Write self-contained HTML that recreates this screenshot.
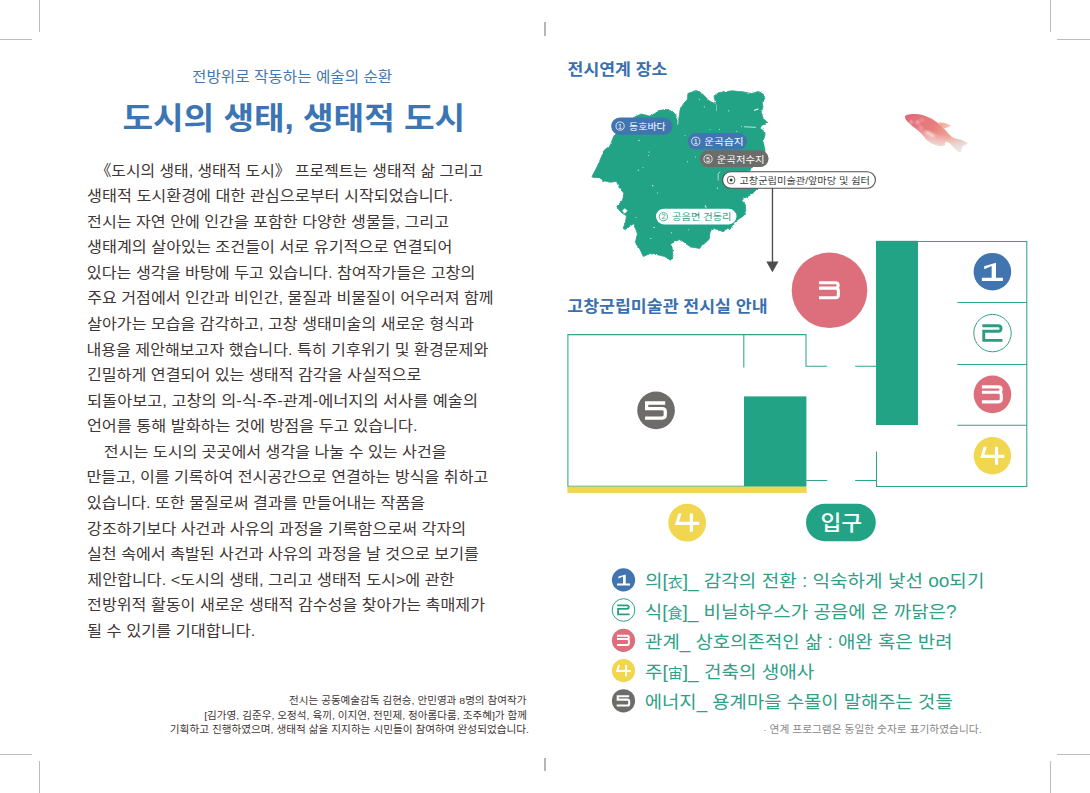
<!DOCTYPE html>
<html lang="ko"><head><meta charset="utf-8"><title>도시의 생태, 생태적 도시</title>
<style>
html,body{margin:0;padding:0;background:#fff}
body{width:1090px;height:793px;position:relative;overflow:hidden;font-family:"Liberation Sans",sans-serif}
svg{position:absolute;left:0;top:0;display:block}
svg text{font-family:"Liberation Sans","Noto Sans CJK KR","NanumGothic",sans-serif}
#t *{position:absolute;margin:0;padding:0;white-space:nowrap;line-height:1.16;color:transparent;overflow:hidden}
</style></head><body>
<svg width="1090" height="793" viewBox="0 0 1090 793">
<rect x="39" y="0" width="1" height="32" fill="#bcbcbc"/>
<rect x="39" y="761" width="1" height="32" fill="#bcbcbc"/>
<rect x="1050" y="0" width="1" height="32" fill="#bcbcbc"/>
<rect x="1050" y="761" width="1" height="32" fill="#bcbcbc"/>
<rect x="0" y="39" width="32" height="1" fill="#bcbcbc"/>
<rect x="1057" y="39" width="33" height="1" fill="#bcbcbc"/>
<rect x="0" y="754" width="32" height="1" fill="#bcbcbc"/>
<rect x="1057" y="754" width="33" height="1" fill="#bcbcbc"/>
<rect x="544" y="22" width="2" height="14" fill="#b9b3b3"/>
<rect x="544" y="758" width="2" height="13" fill="#b9b3b3"/>
<defs><filter id="rough" x="-5%" y="-5%" width="110%" height="110%"><feTurbulence type="fractalNoise" baseFrequency="0.3" numOctaves="2" seed="4" result="n"/><feDisplacementMap in="SourceGraphic" in2="n" scale="2.4" xChannelSelector="R" yChannelSelector="G"/></filter></defs>
<path filter="url(#rough)" fill="#23a386" stroke="#23a386" stroke-width="0.8" stroke-linejoin="round" d="M614,135.6 634.5,116.9 641.3,114 650.4,116.3 659.5,110.6 666.3,109.3 673,111.8 676.5,116.3 678.2,121.5 679.3,116 680,110.1 683.4,103.8 687.4,99.3 687.9,93.6 695.9,90.4 701.6,93.1 705.5,97 709.5,101 716.3,104.4 714.6,99.3 714,95.9 718.6,92.7 732.2,90.8 743.6,91.9 751.5,93.6 758.3,91.4 763.4,94.2 764.9,98.2 762.3,102.7 762.9,107.2 761.2,112.9 763.4,118.6 767.2,122.2 761.7,125.4 760,128.2 764.6,131.6 765.1,134.5 762.9,141.3 764.6,148.1 765.1,150.9 762,160 752.6,167 749.2,171.6 752,180 757.2,188.5 752.6,193.7 743.6,198.8 741.9,200.5 745.3,204.5 745.8,210.2 743.6,215.8 736.8,220.4 733.4,223.8 729.9,229.5 727.7,228.3 723.1,231.7 717.5,229.5 713.8,228.6 710.1,233 709.4,238.9 704.2,244 702,244.8 699.8,248.4 691,247 685.1,243.3 679.3,239.6 670.5,244 672.7,249.9 672.7,258 670.5,260.2 664.6,256.5 658.7,255 649.9,253.6 643.3,256.5 639.6,248.4 635.2,243.3 637.4,233.8 633.8,223.5 625.4,229.5 623.1,228.3 625.4,222.6 626.5,215.8 622.6,213.6 619.2,210.2 616.9,206.2 619.7,203.3 622.6,199.9 623.7,193.1 619.2,187.5 616.3,181.2 610.6,182.3 602.7,180.6 600.4,177.2 594.2,177.8 591.9,176.7 597,167 604.4,150 610,145.8Z"/>
<path fill="#fff" d="M624.8,208.2 627.6,210.7 624.8,213.4 622,210.7Z"/>
<circle cx="639" cy="140.5" r="0.7" fill="#fff" opacity=".85"/>
<circle cx="649" cy="152" r="0.6" fill="#fff" opacity=".85"/>
<circle cx="648.5" cy="155.5" r="0.5" fill="#fff" opacity=".85"/>
<circle cx="643" cy="167.5" r="0.5" fill="#fff" opacity=".85"/>
<circle cx="638.3" cy="170.2" r="0.6" fill="#fff" opacity=".85"/>
<circle cx="652.7" cy="185.8" r="0.7" fill="#fff" opacity=".85"/>
<circle cx="657.5" cy="193" r="0.5" fill="#fff" opacity=".85"/>
<circle cx="636" cy="217.5" r="0.5" fill="#fff" opacity=".85"/>
<circle cx="653.8" cy="227.6" r="0.5" fill="#fff" opacity=".85"/>
<circle cx="671.5" cy="232.8" r="0.6" fill="#fff" opacity=".85"/>
<circle cx="650.8" cy="238.5" r="0.6" fill="#fff" opacity=".85"/>
<circle cx="654.3" cy="227.3" r="0.5" fill="#fff" opacity=".85"/>
<circle cx="685" cy="135.5" r="0.5" fill="#fff" opacity=".85"/>
<circle cx="699.3" cy="99.3" r="0.6" fill="#fff" opacity=".85"/>
<circle cx="704.3" cy="106.8" r="0.6" fill="#fff" opacity=".85"/>
<circle cx="728.8" cy="110.8" r="0.6" fill="#fff" opacity=".85"/>
<circle cx="741.5" cy="126.3" r="0.5" fill="#fff" opacity=".85"/>
<circle cx="710" cy="129.5" r="0.5" fill="#fff" opacity=".85"/>
<circle cx="719.5" cy="129.5" r="0.5" fill="#fff" opacity=".85"/>
<circle cx="736.6" cy="131.3" r="0.5" fill="#fff" opacity=".85"/>
<circle cx="695.5" cy="157" r="0.5" fill="#fff" opacity=".85"/>
<circle cx="687.5" cy="161.8" r="0.5" fill="#fff" opacity=".85"/>
<circle cx="717.5" cy="188.2" r="0.6" fill="#fff" opacity=".85"/>
<circle cx="688.3" cy="229.7" r="0.5" fill="#fff" opacity=".85"/>
<path d="M754.5,110.3l3.6,-1.2" stroke="#fff" stroke-width="1.1" stroke-linecap="round"/>
<path d="M744.5,126.8l11,.5" stroke="#fff" stroke-width=".8" stroke-linecap="round" opacity=".9"/>
<path d="M716.4,104.5v6.5" stroke="#fff" stroke-width=".6" opacity=".7"/>
<path d="M676.3,116.5q2.6,3.5 1.4,8" stroke="#fff" stroke-width=".9" fill="none" opacity=".9"/>
<path d="M718.2,180.5v-7l2,-1.6" stroke="#fff" stroke-width=".7" fill="none" opacity=".9"/>
<path d="M705.2,205.2l.9,2.6" stroke="#fff" stroke-width="1" opacity=".9"/>
<defs><linearGradient id="fg" gradientUnits="userSpaceOnUse" x1="905" y1="116" x2="962" y2="150"><stop offset="0" stop-color="#de6877"/><stop offset=".45" stop-color="#e77f7d"/><stop offset=".72" stop-color="#efa596"/><stop offset="1" stop-color="#dedad9"/></linearGradient>
<linearGradient id="fb" gradientUnits="userSpaceOnUse" x1="930" y1="120" x2="922" y2="146"><stop offset=".38" stop-color="#fff" stop-opacity="0"/><stop offset=".95" stop-color="#e9e5e4" stop-opacity="1"/></linearGradient>
<linearGradient id="ff" gradientUnits="userSpaceOnUse" x1="939" y1="125" x2="951" y2="126"><stop offset="0" stop-color="#eea290"/><stop offset="1" stop-color="#f5cdbf"/></linearGradient>
<filter id="bl" x="-10%" y="-10%" width="120%" height="120%"><feGaussianBlur stdDeviation=".7"/></filter><filter id="bl2" x="-50%" y="-50%" width="200%" height="200%"><feGaussianBlur stdDeviation=".9"/></filter></defs>
<g filter="url(#bl)"><path d="M904.9,117 C905,114.6 909,113.8 914.8,113.9 C920,114 925,115.3 929.6,117.8 C933.5,119.8 937.5,122.3 941.2,125.6 C944,128.2 948,133.5 951.1,136.3 C953.5,138.3 957,139.3 961,139.8 L968,143 L962.7,146.2 L960.2,152.4 C957.8,151 955.8,149.4 954.4,147.9 L949.5,143 L945.6,141.5 L944.5,145.2 C941.5,145.9 939,145.8 936.2,145 C934,144.3 931.8,143.5 929.6,142.1 C927,140.5 925,138 923,135.5 C920.5,132.5 917.6,130.3 914.8,128.1 C912,126 910,124 908.2,122.3 C906.5,120.6 905.2,119 904.9,117Z" fill="url(#fg)"/><path d="M904.9,117 C905,114.6 909,113.8 914.8,113.9 C920,114 925,115.3 929.6,117.8 C933.5,119.8 937.5,122.3 941.2,125.6 C944,128.2 948,133.5 951.1,136.3 C953.5,138.3 957,139.3 961,139.8 L968,143 L962.7,146.2 L960.2,152.4 C957.8,151 955.8,149.4 954.4,147.9 L949.5,143 L945.6,141.5 L944.5,145.2 C941.5,145.9 939,145.8 936.2,145 C934,144.3 931.8,143.5 929.6,142.1 C927,140.5 925,138 923,135.5 C920.5,132.5 917.6,130.3 914.8,128.1 C912,126 910,124 908.2,122.3 C906.5,120.6 905.2,119 904.9,117Z" fill="url(#fb)"/><path d="M938.5,122.6 C941.5,122.4 944.5,122.8 947,123.7 L951.3,125.7 L947.6,127.4 L943.4,128.7Z" fill="url(#ff)"/></g><g filter="url(#bl2)" fill="#fff"><ellipse cx="911.3" cy="121.9" rx=".9" ry="1.8" transform="rotate(-20 911.3 121.9)" opacity=".8"/><ellipse cx="917.6" cy="122.2" rx="1.8" ry="1.5" opacity=".6"/><ellipse cx="922" cy="119.8" rx="2.6" ry="1.2" transform="rotate(15 922 119.8)" opacity=".3"/><ellipse cx="930" cy="134" rx="6" ry="2" transform="rotate(28 930 134)" opacity=".55"/><ellipse cx="921" cy="127.5" rx="3" ry="1.5" transform="rotate(35 921 127.5)" opacity=".3"/></g>
<rect x="611.2" y="117.6" width="61.3" height="17.2" rx="8.60" fill="#4075b0"/>
<rect x="687.6" y="133" width="59.4" height="16.6" rx="8.30" fill="#4075b0"/>
<rect x="699.8" y="150.2" width="68.8" height="16.8" rx="8.40" fill="#6d6c6b"/>
<rect x="656" y="208.8" width="80.5" height="15.6" rx="7.80" fill="#fff"/>
<rect x="722.6" y="171.8" width="152.8" height="16.4" rx="8.20" fill="#fff" stroke="#4f4f4f" stroke-width="1.1"/>
<rect x="771.8" y="188" width="1.35" height="75" fill="#4e4c4c"/>
<path d="M766.3,261.6h12.2l-6.1,10.6z" fill="#4e4c4c"/>
<rect x="876" y="240.8" width="42" height="184.2" fill="#23a386"/>
<path d="M918,241.4H1026.8V486.5H876.5V451.5" stroke="#2fa58a" stroke-width="1.05" fill="none"/>
<path d="M957.3,302.5L1026.8,302.5" stroke="#2fa58a" stroke-width="1.05" fill="none"/>
<path d="M957.3,364.4L1026.8,364.4" stroke="#2fa58a" stroke-width="1.05" fill="none"/>
<path d="M957.3,425.3L1026.8,425.3" stroke="#2fa58a" stroke-width="1.05" fill="none"/>
<path d="M806.3,480.4H827.2M855.2,480.4H876.5M876,366.2H855.2M827.2,366.2H806V334.6H567.9V486.2H806" stroke="#2fa58a" stroke-width="1.05" fill="none"/>
<path d="M743.8,334.6L743.8,367.5" stroke="#2fa58a" stroke-width="1.05" fill="none"/>
<rect x="744" y="396.4" width="62.4" height="90" fill="#23a386"/>
<rect x="567.4" y="486.6" width="239.3" height="6.3" fill="#f1d650"/>
<rect x="806" y="503.8" width="69.8" height="37.4" rx="18.70" fill="#23a386"/>
<circle cx="829.5" cy="290.3" r="37.8" fill="#dc6f7b"/>
<path transform="translate(829.5 290.3) scale(18.8)" fill="none" stroke="#fff" stroke-width=".165" d="M-.56,-.40H.31Q.46,-.40 .46,-.26Q.46,-.115 .31,-.115H-.56M.31,-.115Q.47,-.115 .47,.03V.25Q.47,.40 .31,.40H-.56"/>
<circle cx="992.4" cy="271.7" r="18.8" fill="#4075b0"/>
<path transform="translate(992.4 271.7) scale(18.8)" fill="#fff" d="M-.56,.32H.56V.49H-.56ZM-.04,-.30L-.43,-.13L-.44,-.29L.19,-.475V.40H-.04Z"/>
<circle cx="992.5" cy="333.1" r="18.7" fill="#fff" stroke="#2fa58a" stroke-width="1"/>
<path transform="translate(992.5 333.1) scale(18.8)" fill="none" stroke="#2a9e82" stroke-width=".155" d="M-.54,-.395H.30Q.455,-.395 .455,-.25Q.455,-.10 .30,-.10H-.465V.385H.53"/>
<circle cx="992.45" cy="394.4" r="18.8" fill="#dc6f7b"/>
<path transform="translate(992.45 394.4) scale(18.8)" fill="none" stroke="#fff" stroke-width=".165" d="M-.56,-.40H.31Q.46,-.40 .46,-.26Q.46,-.115 .31,-.115H-.56M.31,-.115Q.47,-.115 .47,.03V.25Q.47,.40 .31,.40H-.56"/>
<circle cx="992.4" cy="455.7" r="18.7" fill="#f1d650"/>
<path transform="translate(992.4 455.7) scale(18.7)" fill="#fff" d="M.136,-.485H.303V.485H.136ZM-.65,.12L-.47,-.485H-.30L-.43,-.045H.636V.12Z"/>
<circle cx="656.05" cy="410.4" r="18.8" fill="#6d6c6b"/>
<path transform="translate(656.05 410.4) scale(18.8)" fill="none" stroke="#fff" stroke-width=".175" d="M.486,-.393H-.50V-.10H.32Q.49,-.10 .49,.06V.25Q.49,.408 .32,.408H-.586"/>
<circle cx="687.2" cy="522.7" r="18.9" fill="#f1d650"/>
<path transform="translate(687.2 522.7) scale(18.9)" fill="#fff" d="M.136,-.485H.303V.485H.136ZM-.65,.12L-.47,-.485H-.30L-.43,-.045H.636V.12Z"/>
<circle cx="623.5" cy="579.9" r="11.6" fill="#4075b0"/>
<path transform="translate(623.5 579.9) scale(11.6)" fill="#fff" d="M-.56,.32H.56V.49H-.56ZM-.04,-.30L-.43,-.13L-.44,-.29L.19,-.475V.40H-.04Z"/>
<circle cx="623.5" cy="610" r="11.3" fill="#fff" stroke="#2fa58a" stroke-width="1"/>
<path transform="translate(623.5 610) scale(11.6)" fill="none" stroke="#2a9e82" stroke-width=".155" d="M-.54,-.395H.30Q.455,-.395 .455,-.25Q.455,-.10 .30,-.10H-.465V.385H.53"/>
<circle cx="623.5" cy="640.4" r="11.6" fill="#dc6f7b"/>
<path transform="translate(623.5 640.4) scale(11.6)" fill="none" stroke="#fff" stroke-width=".165" d="M-.56,-.40H.31Q.46,-.40 .46,-.26Q.46,-.115 .31,-.115H-.56M.31,-.115Q.47,-.115 .47,.03V.25Q.47,.40 .31,.40H-.56"/>
<circle cx="623.5" cy="670.6" r="11.6" fill="#f1d650"/>
<path transform="translate(623.5 670.6) scale(11.6)" fill="#fff" d="M.136,-.485H.303V.485H.136ZM-.65,.12L-.47,-.485H-.30L-.43,-.045H.636V.12Z"/>
<circle cx="623.5" cy="700.8" r="11.6" fill="#6d6c6b"/>
<path transform="translate(623.5 700.8) scale(11.6)" fill="none" stroke="#fff" stroke-width=".175" d="M.486,-.393H-.50V-.10H.32Q.49,-.10 .49,.06V.25Q.49,.408 .32,.408H-.586"/>
<text x="192.06" y="82.24" font-size="14.6" fill="#4478b4" textLength="200.2" lengthAdjust="spacingAndGlyphs">전방위로 작동하는 예술의 순환</text>
<text x="122.42" y="129.06" font-size="31" font-weight="700" fill="#3c75b3" textLength="342.8" lengthAdjust="spacingAndGlyphs">도시의 생태, 생태적 도시</text>
<g font-size="15.1" fill="#3f3636">
<text x="95.50" y="175.52" textLength="387.7" lengthAdjust="spacingAndGlyphs">《도시의 생태, 생태적 도시》 프로젝트는 생태적 삶 그리고</text>
<text x="87.12" y="201.09" textLength="365.9" lengthAdjust="spacingAndGlyphs">생태적 도시환경에 대한 관심으로부터 시작되었습니다.</text>
<text x="87.08" y="226.66" textLength="361.9" lengthAdjust="spacingAndGlyphs">전시는 자연 안에 인간을 포함한 다양한 생물들, 그리고</text>
<text x="87.11" y="252.23" textLength="365.3" lengthAdjust="spacingAndGlyphs">생태계의 살아있는 조건들이 서로 유기적으로 연결되어</text>
<text x="86.80" y="277.80" textLength="388.5" lengthAdjust="spacingAndGlyphs">있다는 생각을 바탕에 두고 있습니다. 참여작가들은 고창의</text>
<text x="87.15" y="303.37" textLength="406.5" lengthAdjust="spacingAndGlyphs">주요 거점에서 인간과 비인간, 물질과 비물질이 어우러져 함께</text>
<text x="87.22" y="328.94" textLength="386.8" lengthAdjust="spacingAndGlyphs">살아가는 모습을 감각하고, 고창 생태미술의 새로운 형식과</text>
<text x="86.42" y="354.51" textLength="401.8" lengthAdjust="spacingAndGlyphs">내용을 제안해보고자 했습니다. 특히 기후위기 및 환경문제와</text>
<text x="86.90" y="380.08" textLength="334.5" lengthAdjust="spacingAndGlyphs">긴밀하게 연결되어 있는 생태적 감각을 사실적으로</text>
<text x="87.06" y="405.65" textLength="390.9" lengthAdjust="spacingAndGlyphs">되돌아보고, 고창의 의-식-주-관계-에너지의 서사를 예술의</text>
<text x="86.92" y="431.22" textLength="330.6" lengthAdjust="spacingAndGlyphs">언어를 통해 발화하는 것에 방점을 두고 있습니다.</text>
<text x="103.88" y="456.79" textLength="342.7" lengthAdjust="spacingAndGlyphs">전시는 도시의 곳곳에서 생각을 나눌 수 있는 사건을</text>
<text x="86.51" y="482.36" textLength="401.8" lengthAdjust="spacingAndGlyphs">만들고, 이를 기록하여 전시공간으로 연결하는 방식을 취하고</text>
<text x="86.81" y="507.93" textLength="338.3" lengthAdjust="spacingAndGlyphs">있습니다. 또한 물질로써 결과를 만들어내는 작품을</text>
<text x="87.12" y="533.50" textLength="379.0" lengthAdjust="spacingAndGlyphs">강조하기보다 사건과 사유의 과정을 기록함으로써 각자의</text>
<text x="87.02" y="559.07" textLength="391.8" lengthAdjust="spacingAndGlyphs">실천 속에서 촉발된 사건과 사유의 과정을 날 것으로 보기를</text>
<text x="87.31" y="584.64" textLength="367.2" lengthAdjust="spacingAndGlyphs">제안합니다. &lt;도시의 생태, 그리고 생태적 도시&gt;에 관한</text>
<text x="87.08" y="610.21" textLength="397.9" lengthAdjust="spacingAndGlyphs">전방위적 활동이 새로운 생태적 감수성을 찾아가는 촉매제가</text>
<text x="87.08" y="635.78" textLength="168.2" lengthAdjust="spacingAndGlyphs">될 수 있기를 기대합니다.</text>
</g>
<g font-size="9.9" fill="#3f3636">
<text x="289.10" y="704.36" textLength="237.3" lengthAdjust="spacingAndGlyphs">전시는 공동예술감독 김현승, 안민영과 8명의 참여작가</text>
<text x="204.16" y="718.86" textLength="322.9" lengthAdjust="spacingAndGlyphs">[김가영, 김준우, 오정석, 육끼, 이지연, 전민제, 정아롬다룸, 조주혜]가 함께</text>
<text x="169.82" y="733.26" textLength="359.2" lengthAdjust="spacingAndGlyphs">기획하고 진행하였으며, 생태적 삶을 지지하는 시민들이 참여하여 완성되었습니다.</text>
</g>
<text x="567.59" y="75.28" font-size="16" font-weight="700" fill="#3a70ad" textLength="99.8" lengthAdjust="spacingAndGlyphs">전시연계 장소</text>
<text x="567.33" y="312.19" font-size="16" font-weight="700" fill="#3a70ad" textLength="200.2" lengthAdjust="spacingAndGlyphs">고창군립미술관 전시실 안내</text>
<text x="629.10" y="129.72" font-size="9.2" fill="#fff" textLength="36.7" lengthAdjust="spacingAndGlyphs">동호바다</text>
<circle cx="620.1" cy="126.1" r="4.1" fill="none" stroke="#fff" stroke-width="0.8"/>
<text x="620.1" y="128.72" font-size="7.2" fill="#fff" text-anchor="middle">1</text>
<text x="704.28" y="144.92" font-size="9.2" fill="#fff" textLength="39.4" lengthAdjust="spacingAndGlyphs">운곡습지</text>
<circle cx="695.8" cy="141.3" r="4.1" fill="none" stroke="#fff" stroke-width="0.8"/>
<text x="695.8" y="143.92" font-size="7.2" fill="#fff" text-anchor="middle">1</text>
<text x="716.79" y="162.52" font-size="9.2" fill="#fff" textLength="47.8" lengthAdjust="spacingAndGlyphs">운곡저수지</text>
<circle cx="708" cy="159" r="4.1" fill="none" stroke="#fff" stroke-width="0.8"/>
<text x="708" y="161.62" font-size="7.2" fill="#fff" text-anchor="middle">5</text>
<text x="672.07" y="220.32" font-size="9.2" fill="#2a9e82" textLength="59.5" lengthAdjust="spacingAndGlyphs">공음면 건동리</text>
<circle cx="663.4" cy="216.7" r="4.1" fill="none" stroke="#2a9e82" stroke-width="0.8"/>
<text x="663.4" y="219.32" font-size="7.2" fill="#2a9e82" text-anchor="middle">2</text>
<text x="739.47" y="183.77" font-size="9.4" fill="#3b3b3b" textLength="130.5" lengthAdjust="spacingAndGlyphs">고창군립미술관/앞마당 및 쉼터</text>
<circle cx="731.1" cy="180" r="3.9" fill="none" stroke="#3b3b3b" stroke-width=".8"/><circle cx="731.1" cy="180" r="1.5" fill="#3b3b3b"/>
<text x="820.47" y="530.37" font-size="21" font-weight="500" fill="#fff" textLength="41.8" lengthAdjust="spacingAndGlyphs">입구</text>
<g font-size="17.6" fill="#2fa086">
<text x="644.91" y="587.41" textLength="339.5" lengthAdjust="spacingAndGlyphs">의[<tspan font-size="13.8">衣</tspan>]_ 감각의 전환 : 익숙하게 낯선 oo되기</text>
<text x="644.82" y="617.51" textLength="311.8" lengthAdjust="spacingAndGlyphs">식[<tspan font-size="13.8">食</tspan>]_ 비닐하우스가 공음에 온 까닭은?</text>
<text x="645.09" y="647.91" textLength="307.5" lengthAdjust="spacingAndGlyphs">관계_ 상호의존적인 삶 : 애완 혹은 반려</text>
<text x="645.01" y="678.11" textLength="169.3" lengthAdjust="spacingAndGlyphs">주[<tspan font-size="13.8">宙</tspan>]_ 건축의 생애사</text>
<text x="644.80" y="708.31" textLength="307.9" lengthAdjust="spacingAndGlyphs">에너지_ 용계마을 수몰이 말해주는 것들</text>
</g>
<text x="763.05" y="732.61" font-size="9.8" fill="#8a8888" textLength="218.6" lengthAdjust="spacingAndGlyphs">· 연계 프로그램은 동일한 숫자로 표기하였습니다.</text>
</svg>
<div id="t">
<p style="left:192.9px;top:67.3px;width:198.8px;font-size:15.6px;font-weight:400">전방위로 작동하는 예술의 순환</p>
<h1 style="left:123.8px;top:98.9px;width:337.7px;font-size:31.4px;font-weight:700">도시의 생태, 생태적 도시</h1>
<p style="left:104.2px;top:160.3px;width:378.2px;font-size:15.8px;font-weight:400">《도시의 생태, 생태적 도시》 프로젝트는 생태적 삶 그리고</p>
<p style="left:88.0px;top:185.9px;width:360.2px;font-size:15.8px;font-weight:400">생태적 도시환경에 대한 관심으로부터 시작되었습니다.</p>
<p style="left:88.0px;top:211.5px;width:360.2px;font-size:15.8px;font-weight:400">전시는 자연 안에 인간을 포함한 다양한 생물들, 그리고</p>
<p style="left:88.0px;top:237.0px;width:362.3px;font-size:15.8px;font-weight:400">생태계의 살아있는 조건들이 서로 유기적으로 연결되어</p>
<p style="left:88.0px;top:262.6px;width:385.0px;font-size:15.8px;font-weight:400">있다는 생각을 바탕에 두고 있습니다. 참여작가들은 고창의</p>
<p style="left:88.0px;top:288.2px;width:403.9px;font-size:15.8px;font-weight:400">주요 거점에서 인간과 비인간, 물질과 비물질이 어우러져 함께</p>
<p style="left:88.0px;top:313.8px;width:385.4px;font-size:15.8px;font-weight:400">살아가는 모습을 감각하고, 고창 생태미술의 새로운 형식과</p>
<p style="left:88.0px;top:339.3px;width:399.8px;font-size:15.8px;font-weight:400">내용을 제안해보고자 했습니다. 특히 기후위기 및 환경문제와</p>
<p style="left:88.0px;top:364.9px;width:332.6px;font-size:15.8px;font-weight:400">긴밀하게 연결되어 있는 생태적 감각을 사실적으로</p>
<p style="left:88.0px;top:390.5px;width:387.8px;font-size:15.8px;font-weight:400">되돌아보고, 고창의 의-식-주-관계-에너지의 서사를 예술의</p>
<p style="left:88.0px;top:416.0px;width:324.7px;font-size:15.8px;font-weight:400">언어를 통해 발화하는 것에 방점을 두고 있습니다.</p>
<p style="left:104.8px;top:441.6px;width:340.9px;font-size:15.8px;font-weight:400">전시는 도시의 곳곳에서 생각을 나눌 수 있는 사건을</p>
<p style="left:88.0px;top:467.2px;width:399.5px;font-size:15.8px;font-weight:400">만들고, 이를 기록하여 전시공간으로 연결하는 방식을 취하고</p>
<p style="left:88.0px;top:492.7px;width:336.2px;font-size:15.8px;font-weight:400">있습니다. 또한 물질로써 결과를 만들어내는 작품을</p>
<p style="left:88.0px;top:518.3px;width:375.9px;font-size:15.8px;font-weight:400">강조하기보다 사건과 사유의 과정을 기록함으로써 각자의</p>
<p style="left:88.0px;top:543.9px;width:389.9px;font-size:15.8px;font-weight:400">실천 속에서 촉발된 사건과 사유의 과정을 날 것으로 보기를</p>
<p style="left:88.0px;top:569.5px;width:366.0px;font-size:15.8px;font-weight:400">제안합니다. &lt;도시의 생태, 그리고 생태적 도시&gt;에 관한</p>
<p style="left:88.0px;top:595.0px;width:396.5px;font-size:15.8px;font-weight:400">전방위적 활동이 새로운 생태적 감수성을 찾아가는 촉매제가</p>
<p style="left:88.0px;top:620.6px;width:162.4px;font-size:15.8px;font-weight:400">될 수 있기를 기대합니다.</p>
<p style="left:289.7px;top:694.4px;width:236.3px;font-size:10.4px;font-weight:400">전시는 공동예술감독 김현승, 안민영과 8명의 참여작가</p>
<p style="left:205.3px;top:708.9px;width:320.7px;font-size:10.4px;font-weight:400">[김가영, 김준우, 오정석, 육끼, 이지연, 전민제, 정아롬다룸, 조주혜]가 함께</p>
<p style="left:170.5px;top:723.3px;width:355.5px;font-size:10.4px;font-weight:400">기획하고 진행하였으며, 생태적 삶을 지지하는 시민들이 참여하여 완성되었습니다.</p>
<h2 style="left:568.3px;top:58.9px;width:98.3px;font-size:17.0px;font-weight:600">전시연계 장소</h2>
<h2 style="left:568.1px;top:295.6px;width:197.8px;font-size:17.3px;font-weight:600">고창군립미술관 전시실 안내</h2>
<span style="left:618.2px;top:120.6px;width:47.3px;font-size:9.5px;font-weight:400">① 동호바다</span>
<span style="left:693.4px;top:135.8px;width:48.9px;font-size:9.5px;font-weight:400">① 운곡습지</span>
<span style="left:705.9px;top:153.4px;width:57.4px;font-size:9.5px;font-weight:400">⑤ 운곡저수지</span>
<span style="left:661.2px;top:211.2px;width:69.0px;font-size:9.5px;font-weight:400">② 공음면 건동리</span>
<span style="left:728.1px;top:174.3px;width:140.6px;font-size:9.9px;font-weight:400">⊙ 고창군립미술관/앞마당 및 쉼터</span>
<span style="left:821.9px;top:508.7px;width:39.3px;font-size:22.5px;font-weight:500">입구</span>
<p style="left:623.9px;top:569.7px;width:357.9px;font-size:18.4px;font-weight:400">1 의[衣]_ 감각의 전환 : 익숙하게 낯선 oo되기</p>
<p style="left:623.9px;top:599.8px;width:330.0px;font-size:18.4px;font-weight:400">2 식[食]_ 비닐하우스가 공음에 온 까닭은?</p>
<p style="left:623.9px;top:630.2px;width:326.1px;font-size:18.4px;font-weight:400">3 관계_ 상호의존적인 삶 : 애완 혹은 반려</p>
<p style="left:623.9px;top:660.4px;width:189.9px;font-size:18.4px;font-weight:400">4 주[宙]_ 건축의 생애사</p>
<p style="left:623.9px;top:690.6px;width:327.7px;font-size:18.4px;font-weight:400">5 에너지_ 용계마을 수몰이 말해주는 것들</p>
<small style="left:765.3px;top:723.0px;width:213.1px;font-size:10.0px;font-weight:400">· 연계 프로그램은 동일한 숫자로 표기하였습니다.</small>
<b style="left:820.5px;top:279.3px;width:18px;font-size:19px;text-align:center">3</b>
<b style="left:983.4px;top:260.7px;width:18px;font-size:19px;text-align:center">1</b>
<b style="left:983.5px;top:322.1px;width:18px;font-size:19px;text-align:center">2</b>
<b style="left:983.5px;top:383.4px;width:18px;font-size:19px;text-align:center">3</b>
<b style="left:983.4px;top:444.7px;width:18px;font-size:19px;text-align:center">4</b>
<b style="left:647.0px;top:399.4px;width:18px;font-size:19px;text-align:center">5</b>
<b style="left:678.2px;top:511.7px;width:18px;font-size:19px;text-align:center">4</b>
</div>
</body></html>
